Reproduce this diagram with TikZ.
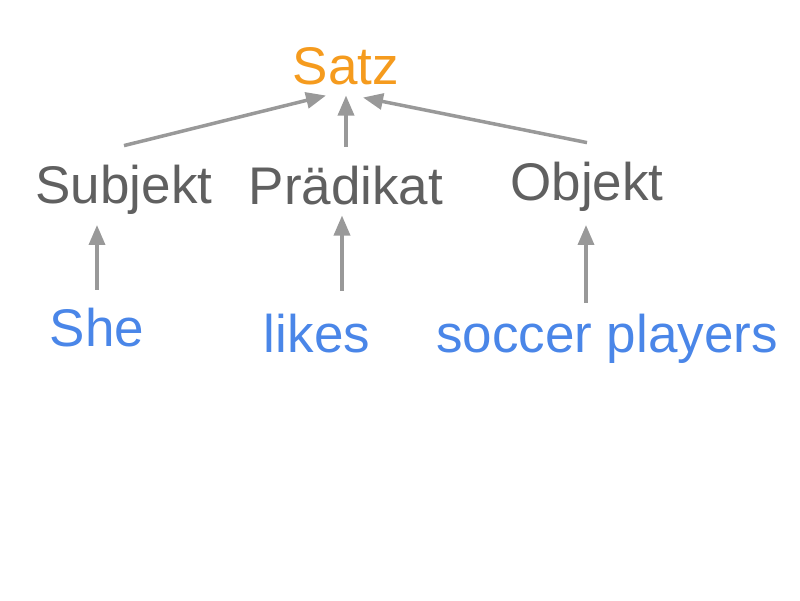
\documentclass[tikz,border=0pt]{standalone}
\usepackage{fontspec}
\setmainfont{Liberation Sans}
\usetikzlibrary{arrows.meta}
\definecolor{satzorange}{HTML}{F59B1E}
\definecolor{partgray}{HTML}{606060}
\definecolor{wordblue}{HTML}{4A86E8}
\definecolor{arrowgray}{HTML}{999999}

\begin{document}
\begin{tikzpicture}[x=1pt,y=1pt,->,>={Triangle[length=20pt,width=16pt]},
                    line width=3.5pt,arrowgray,
                    every node/.style={inner sep=0pt,outer sep=0pt,anchor=base,
                                       font=\fontsize{53}{60}\selectfont},
                    root node/.style={text=satzorange},
                    part node/.style={text=partgray},
                    word node/.style={text=wordblue}]
                    \useasboundingbox (0,0) rectangle (800,600);
                    \node[root node] (Satz) at (346,515) {Satz};
                    \node[part node] (Subjekt) at (124,396) {Subjekt};
                    \node[part node] (Praedikat) at (346,395) {Prädikat};
                    \node[part node] (Objekt) at (587,399) {Objekt};
                    \node[word node] (She) at (97,253) {She};
                    \node[word node] (likes) at (317,247) {likes};
                    \node[word node] (players) at (607,247) {soccer players};
                    \path
                        ([yshift=20pt]Subjekt.north)
                        edge ([xshift=-20pt,yshift=-10pt]Satz.south)

                        ([yshift=20pt]Praedikat.north)
                        edge ([yshift=-10pt]Satz.south)

                        ([yshift=20pt]Objekt.north)
                        edge ([xshift=17pt,yshift=-12pt]Satz.south)

                        ([yshift=19pt]She.north)
                        edge ([xshift=-27pt,yshift=-10pt]Subjekt.south)

                        ([xshift=25pt,yshift=24pt]likes.north)
                        edge ([xshift=-4pt,yshift=-10pt]Praedikat.south)

                        ([xshift=-21pt,yshift=12pt]players.north)
                        edge ([xshift=-1pt,yshift=-13pt]Objekt.south);
                \end{tikzpicture}
\end{document}
